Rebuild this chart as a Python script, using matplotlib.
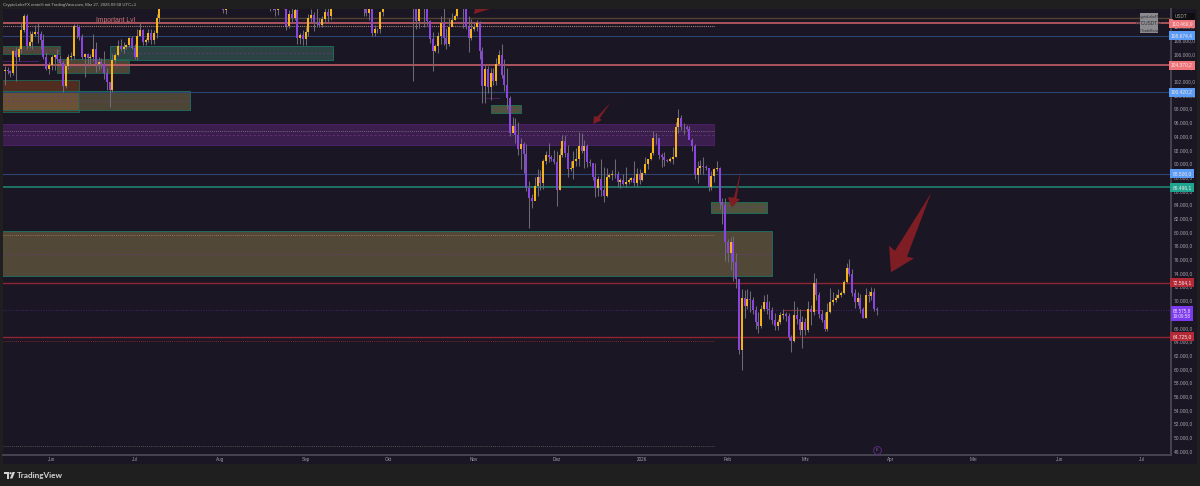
import matplotlib
matplotlib.use('Agg')
import matplotlib.pyplot as plt
import matplotlib.dates as mdates
import numpy as np
import pandas as pd
from matplotlib.patches import Rectangle, Polygon, Circle
from matplotlib.transforms import Affine2D

# daily candles in thousand USDT, 15 May 2025 to 27 Mar 2026
first_day = '2025-05-15'
first_open = 103.5
closes = [
    # May
    103.7, 103.5, 103.2, 106.4, 105.5, 106.8, 109.5, 111.6, 107.2, 107.8, 108.9, 109.2, 108.9, 108.0, 105.5, 103.8, 104.4,
    # Jun
    105.5, 105.8, 105.2, 104.7, 101.3, 104.3, 105.5, 105.7, 110.1, 110.0, 108.5, 105.5, 106.0, 105.4, 105.5,
    106.8, 104.5, 104.9, 104.6, 103.2, 101.9, 100.7, 105.1, 105.9, 107.2, 106.8, 107.0, 107.3, 108.3, 106.9,
    # Jul
    105.6, 108.7, 109.5, 107.8, 108.1, 109.0, 108.0, 109.1, 111.2, 116.0, 117.5, 117.4, 119.1, 119.8, 117.7, 118.6,
    119.2, 117.9, 117.9, 117.3, 117.4, 120.0, 118.7, 118.3, 117.6, 117.9, 119.4, 118.0, 117.8, 117.8, 115.7,
    # Aug
    113.3, 112.5, 114.2, 115.1, 114.1, 115.0, 117.5, 116.6, 116.5, 119.3, 118.7, 120.1, 123.3, 118.3, 117.4, 117.4,
    117.5, 116.2, 112.9, 114.3, 112.5, 116.9, 115.4, 113.5, 110.1, 111.8, 111.2, 112.5, 108.4, 108.8, 108.2,
    # Sep
    109.2, 111.2, 111.7, 110.7, 110.7, 110.2, 111.1, 112.1, 111.5, 113.9, 115.5, 116.0, 115.9, 115.3, 115.4,
    116.8, 116.5, 117.1, 115.7, 115.7, 115.3, 112.7, 112.0, 113.3, 109.0, 109.6, 109.6, 112.1, 114.4, 114.0,
    # Oct
    118.6, 120.6, 122.2, 122.4, 123.5, 124.7, 121.4, 123.3, 121.7, 113.0, 110.8, 115.2, 115.3, 113.0, 110.8, 108.2,
    106.4, 107.2, 108.7, 110.6, 108.4, 107.5, 110.0, 111.0, 111.6, 114.5, 114.1, 112.9, 110.0, 108.3, 109.6,
    # Nov
    110.0, 110.5, 106.5, 101.3, 103.8, 101.2, 103.2, 102.1, 104.5, 105.9, 102.9, 101.5, 99.5, 94.4, 95.5,
    94.1, 92.1, 92.9, 91.4, 86.4, 85.0, 84.5, 86.7, 88.1, 87.2, 90.4, 91.2, 90.9, 90.6, 90.2,
    # Dec
    86.1, 91.2, 93.3, 91.6, 89.2, 89.3, 90.3, 90.6, 92.6, 91.9, 92.6, 90.2, 90.1, 88.1, 86.4, 87.8,
    86.1, 85.3, 88.1, 88.3, 88.5, 88.4, 87.3, 87.6, 87.0, 87.3, 87.6, 87.9, 87.1, 88.4, 87.6,
    # Jan
    88.6, 89.9, 90.6, 91.5, 93.8, 93.7, 91.2, 91.0, 90.5, 90.4, 90.7, 91.0, 95.3, 96.7, 95.4, 95.4,
    95.1, 93.5, 92.5, 88.3, 89.4, 89.7, 89.5, 89.3, 86.5, 88.2, 89.2, 89.3, 84.4, 84.0, 78.6,
    # Feb
    76.9, 78.6, 75.6, 73.1, 62.8, 70.4, 69.2, 70.2, 70.0, 68.6, 66.9, 66.2, 68.7, 69.8,
    68.7, 68.6, 67.2, 66.3, 66.9, 67.9, 68.0, 67.7, 64.6, 64.0, 67.9, 67.3, 65.7, 66.9,
    # Mar
    65.7, 68.7, 68.3, 72.5, 70.8, 68.0, 67.1, 65.8, 68.3, 69.8, 70.1, 70.4, 70.8, 71.1,
    72.7, 74.8, 73.9, 71.1, 69.8, 70.4, 68.7, 67.5, 70.8, 70.6, 71.2, 68.7, 68.575,
]
highs = [
    # May
    104.2, 104.1, 103.7, 106.6, 107.0, 107.2, 110.6, 111.9, 111.9, 109.4, 109.3, 110.3, 110.6, 109.3, 108.9, 106.3, 104.9,
    # Jun
    105.8, 105.9, 106.8, 105.9, 105.0, 105.4, 106.0, 106.3, 110.4, 110.4, 110.3, 108.9, 106.2, 106.2, 106.0,
    108.9, 107.7, 105.5, 105.4, 106.4, 103.9, 101.8, 106.0, 106.2, 108.0, 108.2, 107.8, 107.5, 108.5, 108.7,
    # Jul
    107.5, 109.7, 110.5, 109.7, 108.4, 109.6, 109.7, 109.5, 111.9, 116.8, 118.8, 118.2, 119.4, 123.2, 119.9, 120.0,
    120.9, 120.9, 118.9, 118.8, 119.6, 120.2, 120.2, 119.5, 118.4, 118.5, 119.8, 119.7, 119.1, 118.8, 118.9,
    # Aug
    116.0, 114.0, 114.9, 115.7, 115.1, 115.7, 117.7, 117.7, 117.9, 119.3, 122.3, 120.3, 123.6, 124.5, 119.3, 117.9,
    118.6, 117.6, 116.8, 114.6, 114.8, 117.4, 117.0, 115.7, 113.6, 112.4, 112.7, 113.5, 112.6, 109.0, 109.5,
    # Sep
    109.9, 111.8, 112.6, 112.2, 113.4, 111.2, 111.6, 112.9, 113.2, 114.3, 115.6, 116.7, 116.3, 116.2, 116.8,
    117.0, 117.3, 117.9, 117.5, 116.1, 116.0, 115.4, 113.3, 114.0, 113.5, 110.3, 109.8, 112.3, 114.4, 114.7,
    # Oct
    119.0, 121.0, 123.9, 122.8, 125.9, 126.1, 125.1, 124.1, 123.8, 122.4, 113.4, 115.7, 115.9, 115.9, 113.5, 111.0,
    109.2, 107.4, 109.2, 111.6, 114.0, 109.8, 111.2, 112.0, 111.8, 114.7, 116.2, 116.0, 113.5, 111.5, 111.1,
    # Nov
    110.5, 111.0, 110.8, 107.0, 104.5, 104.2, 104.0, 103.9, 105.4, 106.6, 107.5, 105.3, 104.0, 99.8, 96.8,
    96.6, 96.0, 93.8, 93.2, 92.8, 87.5, 85.6, 88.0, 89.2, 89.0, 90.7, 91.9, 93.0, 91.2, 92.0,
    # Dec
    91.9, 92.3, 94.1, 94.1, 92.7, 90.3, 91.8, 92.3, 94.6, 94.5, 93.5, 92.9, 90.6, 89.8, 90.1, 88.2,
    90.6, 89.5, 89.3, 88.6, 89.1, 90.6, 88.9, 87.9, 88.5, 89.5, 87.9, 88.1, 90.3, 89.3, 89.2,
    # Jan
    88.8, 90.9, 90.7, 91.7, 94.7, 94.5, 93.5, 91.5, 91.7, 90.7, 91.0, 92.4, 96.0, 97.9, 97.1, 95.9,
    95.6, 95.5, 93.7, 92.8, 90.4, 90.5, 91.0, 89.8, 89.2, 88.9, 89.4, 90.4, 89.5, 84.9, 84.9,
    # Feb
    79.0, 79.2, 79.4, 76.9, 73.2, 71.6, 71.5, 71.6, 71.4, 70.5, 69.2, 68.3, 69.4, 70.8,
    71.0, 69.9, 69.0, 68.2, 67.3, 68.3, 68.7, 68.3, 68.2, 65.0, 69.9, 69.0, 68.7, 67.7,
    # Mar
    67.5, 69.9, 69.4, 74.0, 73.3, 71.3, 68.6, 68.3, 69.6, 71.8, 71.2, 71.0, 71.7, 71.4,
    73.0, 75.5, 76.0, 74.6, 71.6, 71.3, 71.0, 69.0, 71.8, 71.4, 72.0, 71.8, 69.1,
]
lows = [
    # May
    101.4, 103.1, 102.6, 103.0, 102.0, 105.0, 106.1, 109.2, 106.7, 106.9, 106.7, 108.6, 107.6, 106.7, 105.2, 103.7, 103.1,
    # Jun
    103.7, 103.7, 105.0, 104.6, 100.4, 101.0, 103.8, 105.1, 105.3, 108.3, 108.0, 105.3, 102.6, 104.2, 104.5,
    105.0, 103.3, 103.6, 103.9, 102.4, 100.8, 98.3, 100.4, 104.7, 105.7, 106.5, 106.2, 106.8, 107.0, 106.7,
    # Jul
    105.3, 105.1, 108.6, 107.3, 107.3, 107.8, 107.5, 107.5, 108.3, 110.6, 115.2, 116.9, 117.3, 119.0, 115.8, 116.9,
    117.8, 117.2, 117.3, 116.5, 116.6, 116.4, 117.3, 117.1, 114.7, 117.3, 117.8, 117.4, 116.9, 115.9, 115.4,
    # Aug
    112.7, 112.0, 111.9, 114.1, 112.9, 113.3, 114.3, 115.8, 116.3, 116.0, 118.1, 118.2, 118.9, 117.2, 116.8, 117.2,
    117.2, 114.8, 112.3, 112.4, 111.6, 111.7, 114.7, 112.6, 109.5, 109.8, 110.6, 110.9, 107.5, 107.4, 107.3,
    # Sep
    107.3, 108.6, 110.5, 109.3, 110.0, 110.0, 110.0, 110.6, 110.7, 110.9, 113.4, 114.8, 115.2, 114.8, 114.4,
    114.7, 114.7, 116.0, 115.2, 115.4, 114.8, 111.5, 111.5, 111.0, 108.6, 108.7, 109.0, 109.1, 111.6, 112.7,
    # Oct
    113.9, 118.4, 119.3, 121.6, 122.0, 123.5, 120.7, 121.1, 119.9, 102.0, 109.7, 109.8, 113.7, 110.0, 110.3, 107.6,
    103.5, 106.3, 106.2, 107.5, 107.3, 106.7, 107.1, 110.3, 110.9, 111.4, 113.6, 109.8, 109.7, 106.3, 108.0,
    # Nov
    109.4, 109.4, 105.3, 98.9, 98.9, 100.3, 99.3, 101.4, 101.4, 104.5, 102.5, 100.6, 98.0, 94.0, 94.6,
    93.0, 91.2, 89.2, 88.6, 86.0, 80.6, 83.5, 84.7, 85.3, 86.1, 86.3, 90.0, 90.2, 90.3, 90.0,
    # Dec
    83.8, 86.2, 91.0, 90.9, 88.1, 88.9, 87.7, 89.6, 89.6, 91.5, 89.3, 89.5, 89.7, 87.6, 85.1, 85.2,
    85.3, 84.4, 85.1, 87.9, 87.6, 87.9, 86.6, 86.4, 86.9, 86.6, 87.0, 87.3, 86.7, 86.6, 87.0,
    # Jan
    87.5, 88.4, 89.2, 90.5, 91.3, 92.9, 90.7, 89.5, 89.7, 90.2, 90.2, 90.0, 90.9, 94.5, 94.9, 94.3,
    94.9, 94.8, 91.9, 87.8, 87.2, 88.4, 88.5, 89.0, 86.0, 86.2, 87.3, 88.9, 83.3, 81.1, 75.7,
    # Feb
    75.6, 74.5, 72.9, 71.8, 62.2, 59.8, 67.4, 68.7, 68.3, 68.0, 65.8, 65.2, 65.9, 68.5,
    68.0, 67.3, 66.6, 65.7, 65.7, 66.5, 67.3, 67.0, 64.2, 62.5, 63.9, 66.5, 65.0, 63.0,
    # Mar
    65.0, 65.4, 66.4, 67.8, 70.0, 67.5, 66.8, 65.6, 65.6, 68.2, 69.4, 69.7, 70.3, 70.5,
    71.0, 72.6, 73.5, 70.6, 68.9, 69.4, 68.2, 67.4, 67.4, 69.8, 70.1, 68.4, 67.9,
]

# horizontal levels with their price tags
level_prices = [110469.9, 108674.4, 104370.2, 100420.2, 88500.0, 86496.1, 72564.1, 64725.0]
level_colors = ['#d0656b', '#2b4570', '#d0656b', '#2b4570', '#2b4570', '#1f8a78', '#8f2533', '#8f2533']
level_widths = [1.1, 0.8, 1.1, 0.8, 0.8, 1.1, 1.0, 1.0]
level_tags = ['#f0757a', '#5b9cf6', '#f0757a', '#5b9cf6', '#5b9cf6', '#1fa58f', '#b32a36', '#b32a36']
last_price = 68575.8

# zones: start, end, top, bottom
zone_starts = ['2025-05-10', '2025-06-22', '2025-06-03', '2025-05-10', '2025-05-10', '2025-05-10', '2025-11-07', '2026-01-26']
zone_ends = ['2025-06-04', '2025-09-11', '2025-06-29', '2025-06-11', '2025-07-21', '2026-01-27', '2025-11-18', '2026-02-15']
zone_tops = [107170, 107170, 105200, 102200, 100590, 95770, 98550, 84450]
zone_bottoms = [105930, 105120, 103220, 97530, 97750, 92700, 97450, 82840]
zone_fills = ['#8c8150', '#3f6b60', '#8c8150', '#c25a1e', '#8c8150', '#6a2a8c', '#7d8650', '#7d8650']
zone_alpha = [0.45, 0.52, 0.45, 0.33, 0.45, 0.42, 0.55, 0.55]
zone_edges = ['#1f5f52', '#1f6a5a', '#1f5f52', '#1f5f52', '#1f6a5a', '#4b2068', '#1f6a5a', '#1f6a5a']

big_zone = ['2025-05-10', '2026-02-17', 80140, 73520]

# 68.000 sits under the live price tag in the reference
price_ticks = [p for p in range(48000, 112000, 2000) if p != 68000]
month_ticks = ['2025-06-01', '2025-07-01', '2025-08-01', '2025-09-01', '2025-10-01', '2025-11-01', '2025-12-01',
               '2026-01-01', '2026-02-01', '2026-03-01', '2026-04-01', '2026-05-01', '2026-06-01', '2026-07-01']
month_labels = ['Jun', 'Jul', 'Aug', 'Sep', 'Okt', 'Nov', 'Dez', '2026', 'Feb', 'Mrz', 'Apr', 'Mai', 'Jun', 'Jul']

BG = '#1b1623'
OUTER = '#1f1f1f'
AXIS = '#4a4754'
TXT = '#a3a1a8'
UP = '#f5b31a'
DOWN = '#8a45e0'
ARROW = '#7f1d25'

plt.rcParams['font.family'] = ['Liberation Sans', 'DejaVu Sans']

W, H = 1200, 486
fig = plt.figure(figsize=(W / 100, H / 100), dpi=100, facecolor=OUTER)
# overlay coordinates: pixels of the picture, y from the top
px = Affine2D().scale(1, -1).translate(0, H)

L, R, T, B = 3.3, 1171.0, 9.0, 455.0
ax = fig.add_axes([L / W, (H - B) / H, (R - L) / W, (B - T) / H], facecolor=BG)
fig.add_artist(Rectangle((L, T), 1196.5 - L, 464 - T, transform=px, fc=BG, ec='none', zorder=-1))

days = mdates.date2num(pd.date_range(first_day, periods=len(closes), freq='D'))
c = np.array(closes) * 1000
h = np.array(highs) * 1000
l = np.array(lows) * 1000
o = np.r_[first_open * 1000, c[:-1]]

# 2.76 px per day, last candle sits at x=877
day_px = 2.76
ax.set_xlim(days[-1] + (L - 877) / day_px, days[-1] + (R - 877) / day_px)
ax.set_ylim(47414, 112575)


def german(p):
    return f'{p:,.1f}'.replace(',', 'X').replace('.', ',').replace('X', '.')


def draw_zone(start, end, top, bottom, fill, alpha, edge):
    x0, x1 = mdates.datestr2num(start), mdates.datestr2num(end)
    ax.add_patch(Rectangle((x0, bottom), x1 - x0, top - bottom, fc=fill, alpha=alpha, ec='none', zorder=1))
    ax.add_patch(Rectangle((x0, bottom), x1 - x0, top - bottom, fc='none', ec=edge, lw=0.7, zorder=1.1))
    ax.plot([x0, x1], [(top + bottom) / 2] * 2, color='#6a3a80', lw=0.5, ls=(0, (3, 3)), zorder=1.2)


for i in range(len(zone_starts)):
    draw_zone(zone_starts[i], zone_ends[i], zone_tops[i], zone_bottoms[i], zone_fills[i], zone_alpha[i], zone_edges[i])
draw_zone(big_zone[0], big_zone[1], big_zone[2], big_zone[3], '#9a8c55', 0.43, '#1f6a5a')

# levels
for p, col, lw in zip(level_prices, level_colors, level_widths):
    ax.axhline(p, color=col, lw=lw, zorder=1.5)
ax.axhline(last_price, color='#4a2a8a', lw=0.6, ls=(0, (1, 2)), zorder=1.5)

level_end = mdates.datestr2num('2026-01-27')
level_start = ax.get_xlim()[0]
tan_start = mdates.datestr2num('2025-07-10')
ax.plot([tan_start, ax.get_xlim()[1]], [111330, 111330], color='#4f4330', lw=1.0, zorder=1.5)
ax.plot([level_start, level_end], [110160, 110160], color='#c89a94', lw=0.8, ls=(0, (0.7, 1.0)), zorder=1.5)
ax.plot([level_start, level_end], [94750, 94750], color='#8a7a8a', lw=0.6, ls=(0, (1, 1.5)), zorder=1.5)
ax.plot([level_start, level_end], [79560, 79560], color='#c07a5a', lw=0.6, ls=(0, (1, 1.5)), zorder=1.5)
ax.plot([level_start, level_end], [64140, 64140], color='#a02a38', lw=0.6, ls=(0, (1, 1.5)), zorder=1.5)
ax.plot([level_start, level_end], [48800, 48800], color='#5a6a60', lw=0.6, ls=(0, (1, 1.5)), zorder=1.5)

# short drawn lines
ax.plot([level_start, mdates.datestr2num('2025-05-27')], [105000, 105000], color='#4b2068', lw=0.7, zorder=1.5)
ax.plot([mdates.datestr2num('2025-11-05'), mdates.datestr2num('2025-11-10')], [99500, 99500], color='#4b2068', lw=0.7, zorder=1.5)
ax.plot([mdates.datestr2num('2026-02-21'), mdates.datestr2num('2026-03-07')], [68650, 68650], color='#7a2a3a', lw=0.8, zorder=1.5)

# candles
ax.vlines(days, l, h, color='#6d6975', lw=0.75, zorder=2)
up = c >= o
ax.bar(days[up], (c - o)[up], bottom=o[up], width=0.72, color=UP, lw=0, zorder=3)
ax.bar(days[~up], (c - o)[~up], bottom=o[~up], width=0.72, color=DOWN, lw=0, zorder=3)

ax.text(mdates.datestr2num('2025-06-17'), 110900, 'Important Lvl', color='#d0757a', fontsize=4.9, ha='left', va='center', zorder=4)

# drawn arrows, pixels of the picture
arrows = [
    [(474, 14), (475, 9), (490, 9), (480, 12)],
    [(610.7, 102.3), (597.5, 116.5), (594, 116.5), (593.3, 124), (602, 120), (599.5, 118.5)],
    [(741, 170), (734, 197.5), (727.7, 197.3), (731.7, 207.3), (740, 199.3), (736.5, 198.5)],
    [(931, 193.3), (895, 250.7), (889, 245.7), (891, 272.3), (914, 258.3), (907, 256.7)],
]
for pts in arrows:
    ax.add_patch(Polygon(pts, closed=True, fc=ARROW, ec='none', transform=px, zorder=5))

# event marker
ax.plot([days[-1]], [48150], 'o', ms=5.6, mfc='none', mec='#5a2a80', mew=0.7, zorder=4, clip_on=False)
ax.text(days[-1], 48150, 'E', color='#8a6aa0', fontsize=2.6, ha='center', va='center', zorder=4)

# axes
for s in ['top', 'left']:
    ax.spines[s].set_visible(False)
for s in ['right', 'bottom']:
    ax.spines[s].set_color(AXIS)
    ax.spines[s].set_linewidth(1.3)
ax.yaxis.tick_right()
ax.set_yticks(price_ticks)
ax.set_yticklabels([german(p) for p in price_ticks])
ax.set_xticks(mdates.datestr2num(month_ticks))
ax.set_xticklabels(month_labels)
ax.tick_params(axis='y', length=0, pad=2.2, labelsize=3.5, labelcolor=TXT)
ax.tick_params(axis='x', length=0, pad=1.6, labelsize=3.3, labelcolor=TXT)

# price tags on the scale
yt = ax.get_yaxis_transform()
tag_x = 1 + 11.0 / (R - L)
for p, col in zip(level_prices, level_tags):
    ax.text(tag_x, p, german(p), transform=yt, color='#f4e8e8', fontsize=3.5, ha='center', va='center', clip_on=False, zorder=6,
            bbox=dict(boxstyle='square,pad=0.42', fc=col, ec='none'))
ax.text(tag_x, last_price - 500, german(last_price) + '\n19:09:58', transform=yt, color='#f0e8ff', fontsize=3.3, ha='center', va='center',
        linespacing=1.15, clip_on=False, zorder=6, bbox=dict(boxstyle='square,pad=0.42', fc='#7c3aed', ec='none'))

fig.add_artist(Rectangle((1173, 12.5), 22, 7, transform=px, fc='#0f0f12', ec='none', zorder=5))
fig.text(1175, 16, 'USDT', transform=px, color='#a8a8a8', fontsize=3.3, ha='left', va='center', zorder=6)

# symbol box
fig.add_artist(Rectangle((1140, 13.3), 18, 20, transform=px, fc='#8b8b8f', ec='none', zorder=5))
fig.text(1149, 16.5, 'CryptoLeksFX', transform=px, color='#2a2a2e', fontsize=2.5, ha='center', va='center', zorder=6)
fig.text(1149, 23, 'BTCUSDT.P', transform=px, color='#2a2a2e', fontsize=3.3, ha='center', va='center', zorder=6)
fig.text(1149, 30.5, '0-TradeBand', transform=px, color='#2a2a2e', fontsize=2.5, ha='center', va='center', zorder=6)

# header and footer
fig.text(3.3, 5, 'CryptoLeksFX erstellt mit TradingView.com, Mrz 27, 2026 09:58 UTC+1', transform=px, color='#b8b8b8',
         fontsize=3.05, ha='left', va='center')
fig.text(17, 475, 'TradingView', transform=px, family=['Lato', 'DejaVu Sans'], weight='bold', color='#d6d6d6', fontsize=5.9, ha='left', va='center')
fig.add_artist(Polygon([(4, 472), (9, 472), (9, 478.5), (6.8, 478.5), (6.8, 474.2), (4, 474.2)], transform=px, fc='#d6d6d6', ec='none'))
fig.add_artist(Circle((10.5, 473.2), 1.1, transform=px, fc='#d6d6d6', ec='none'))
fig.add_artist(Polygon([(12.5, 472), (15, 472), (12.4, 478.5), (9.9, 478.5)], transform=px, fc='#d6d6d6', ec='none'))

fig.savefig('out.png', dpi=100, facecolor=OUTER)
